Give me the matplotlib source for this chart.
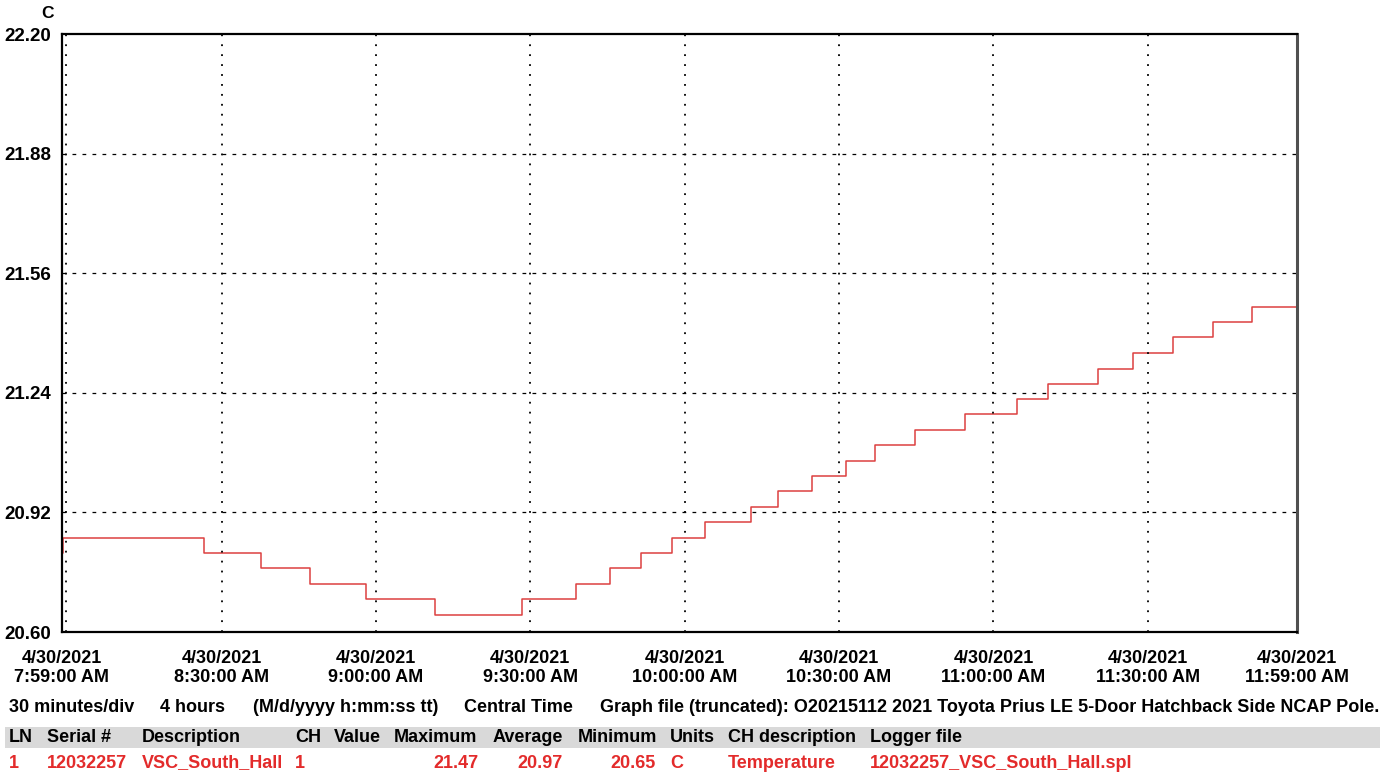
"""
Logger trace: VSC_South_Hall temperature, 4/30/2021 7:59 - 11:59 AM.
"""
import matplotlib

matplotlib.use("Agg")
import matplotlib.pyplot as plt
import pandas as pd
from matplotlib.patches import Rectangle

DAY = "2021-04-30"

# times at which the logged value changes (held until the next one)
STEP_TIMES = [
    "07:59:00", "07:59:15", "08:26:35", "08:37:40", "08:47:10", "08:58:05",
    "09:11:30", "09:28:25", "09:38:55", "09:45:30", "09:51:30", "09:57:30",
    "10:04:00", "10:12:55", "10:18:05", "10:24:40", "10:31:25", "10:37:00",
    "10:44:50", "10:54:30", "11:04:35", "11:10:35", "11:20:20", "11:27:05",
    "11:34:55", "11:42:40", "11:50:10", "11:59:00",
]
TEMPS_C = [
    20.811, 20.852, 20.811, 20.770, 20.728, 20.687,
    20.646, 20.687, 20.728, 20.770, 20.811, 20.852,
    20.893, 20.934, 20.976, 21.017, 21.058, 21.099,
    21.140, 21.182, 21.223, 21.264, 21.305, 21.346,
    21.388, 21.429, 21.470, 21.470,
]

X_TICK_TIMES = ["07:59:00", "08:30:00", "09:00:00", "09:30:00", "10:00:00",
                "10:30:00", "11:00:00", "11:30:00", "11:59:00"]
X_TICK_LABELS = ["4/30/2021\n7:59:00 AM", "4/30/2021\n8:30:00 AM",
                 "4/30/2021\n9:00:00 AM", "4/30/2021\n9:30:00 AM",
                 "4/30/2021\n10:00:00 AM", "4/30/2021\n10:30:00 AM",
                 "4/30/2021\n11:00:00 AM", "4/30/2021\n11:30:00 AM",
                 "4/30/2021\n11:59:00 AM"]
Y_TICKS = [20.60, 20.92, 21.24, 21.56, 21.88, 22.20]
Y_UNIT = "C"

INFO_LINE = ["30 minutes/div", "4 hours", "(M/d/yyyy h:mm:ss tt)", "Central Time",
             "Graph file (truncated): O20215112 2021 Toyota Prius LE 5-Door "
             "Hatchback Side NCAP Pole."]
HEADER = ["LN", "Serial #", "Description", "CH", "Value", "Maximum",
          "Average", "Minimum", "Units", "CH description", "Logger file"]
ROW = ["1", "12032257", "VSC_South_Hall", "1", "", "21.47", "20.97", "20.65",
       "C", "Temperature", "12032257_VSC_South_Hall.spl"]

# layout (pixels of the 1400x777 output)
W, H = 1400, 777
INFO_X = [9, 160, 253, 464, 600]
COL_X = [9, 47, 142, 295, 334, 394, 493, 578, 670, 728, 870]
NUMERIC_RIGHT = {5: 479, 6: 563, 7: 656}
RED = "#e32b2b"
FONT = "Liberation Sans"
FS = 13


def px(x, y):
    return x / W, 1 - y / H


def main():
    plt.rcParams["font.family"] = [FONT, "DejaVu Sans"]
    plt.rcParams["font.weight"] = "bold"

    fig = plt.figure(figsize=(W / 100, H / 100), dpi=100)
    left, top = px(62, 34)
    right, bottom = px(1297, 632)
    ax = fig.add_axes([left, bottom, right - left, top - bottom])

    times = pd.to_datetime([f"{DAY} {t}" for t in STEP_TIMES])
    ax.plot(times, TEMPS_C, drawstyle="steps-post", color="#dc4040", linewidth=1.1)

    ticks = pd.to_datetime([f"{DAY} {t}" for t in X_TICK_TIMES])
    ax.set_xlim(ticks[0], ticks[-1])
    ax.set_ylim(Y_TICKS[0], Y_TICKS[-1])
    ax.set_xticks(ticks)
    ax.set_xticklabels(X_TICK_LABELS, fontsize=FS, fontweight="bold", linespacing=1.15)
    ax.set_yticks(Y_TICKS)
    ax.set_yticklabels([f"{v:.2f}" for v in Y_TICKS], fontsize=FS + 0.5,
                       fontweight="bold")
    ax.tick_params(length=0)
    ax.tick_params(axis="x", pad=13)
    ax.tick_params(axis="y", pad=8)

    # the logger draws its first time division just inside the left frame
    ax.axvline(ticks[0] + pd.Timedelta(seconds=45), color="black",
               linestyle=(0, (1, 4.5)), linewidth=1.3)
    for t in ticks[1:-1]:
        ax.axvline(t, color="black", linestyle=(0, (1, 4.5)), linewidth=1.3)
    for v in Y_TICKS[1:-1]:
        ax.axhline(v, color="black", linestyle=(0, (3, 5)), linewidth=0.9)

    for side in ("left", "top", "bottom"):
        ax.spines[side].set_color("black")
        ax.spines[side].set_linewidth(1.6)
    ax.spines["right"].set_color("#505050")
    ax.spines["right"].set_linewidth(2.2)

    fig.text(*px(47, 14), Y_UNIT, ha="center", va="center", fontsize=FS - 0.5)

    for label, x in zip(INFO_LINE, INFO_X):
        fig.text(*px(x, 707), label, ha="left", va="center", fontsize=FS)

    bx0, by0 = px(5, 748)
    bx1, by1 = px(1380, 727)
    fig.patches.append(Rectangle((bx0, by0), bx1 - bx0, by1 - by0,
                                 transform=fig.transFigure, facecolor="#d9d9d9",
                                 edgecolor="none", zorder=0))

    for label, x in zip(HEADER, COL_X):
        fig.text(*px(x, 738), label, ha="left", va="center", fontsize=FS)
    for i, (label, x) in enumerate(zip(ROW, COL_X)):
        if i in NUMERIC_RIGHT:
            fig.text(*px(NUMERIC_RIGHT[i], 763), label, ha="right", va="center",
                     fontsize=FS, color=RED)
        else:
            fig.text(*px(x, 763), label, ha="left", va="center", fontsize=FS, color=RED)

    fig.savefig("out.png", dpi=100)
    plt.close(fig)


if __name__ == "__main__":
    main()
